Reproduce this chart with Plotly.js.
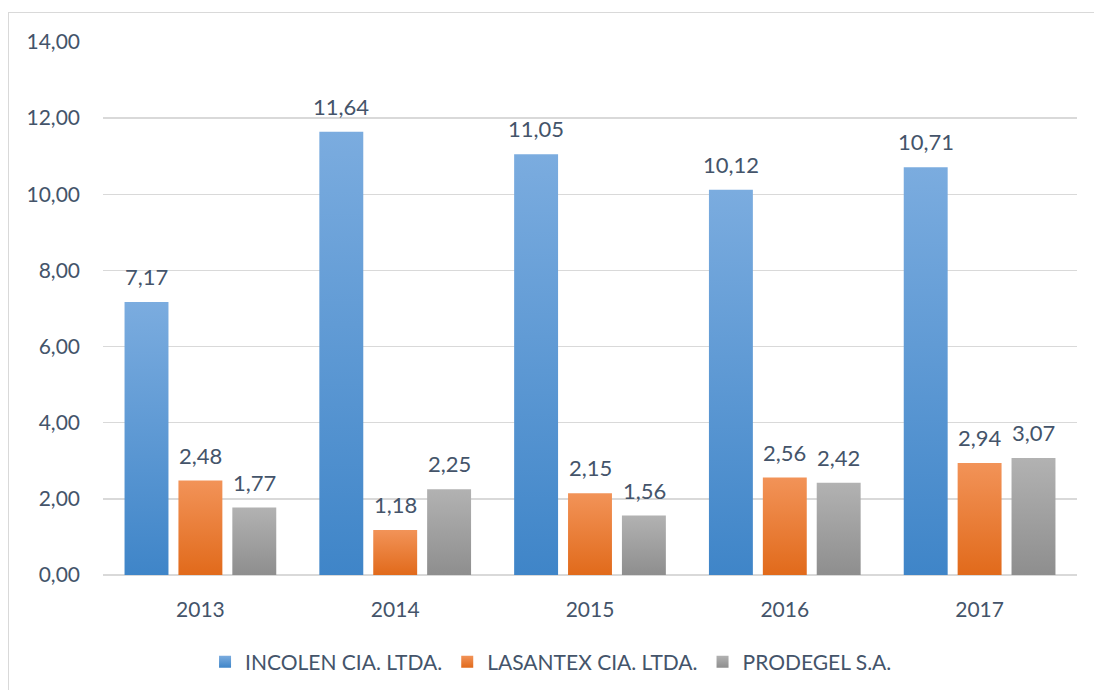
<!DOCTYPE html>
<html>
<head>
<meta charset="utf-8">
<script src="https://cdn.plot.ly/plotly-3.0.1.min.js"></script>
<style>
html,body{margin:0;padding:0;background:#fff;}
#wrap{position:relative;width:1094px;height:690px;}
#chart{position:absolute;left:0;top:0;width:1094px;height:690px;}
#border{position:absolute;left:8px;top:12px;width:1090px;height:680px;border:1px solid #d9d9d9;pointer-events:none;box-sizing:border-box;}
</style>
</head>
<body>
<div id="wrap"><div id="chart"></div><div id="border"></div></div>
<script>
const years = ['2013', '2014', '2015', '2016', '2017'];
const incolen = [7.17, 11.64, 11.05, 10.12, 10.71];
const lasantex = [2.48, 1.18, 2.15, 2.56, 2.94];
const prodegel = [1.77, 2.25, 1.56, 2.42, 3.07];
const seriesNames = ['INCOLEN CIA. LTDA.', 'LASANTEX CIA. LTDA.', 'PRODEGEL S.A.'];
const yTicks = [0, 2, 4, 6, 8, 10, 12, 14];

const colors = ['#5B9BD5', '#ED7D31', '#A5A5A5'];
const grads = [['#7BACDF', '#3F85C8'], ['#F29358', '#E16A1B'], ['#B2B2B2', '#8E8E8E']];
const txtColor = '#44546A';
const fontFam = 'Lato, "Open Sans", sans-serif';

const values = [incolen, lasantex, prodegel];
const traces = values.map((v, i) => ({
  type: 'bar',
  name: seriesNames[i],
  x: years,
  y: v,
  marker: {color: colors[i]},
  hoverinfo: 'skip'
}));

const fmt = d => d.toFixed(2).replace('.', ',');
const groupShift = [-54, 0, 54];
const annotations = [];
values.forEach((v, i) => {
  v.forEach((d, j) => {
    annotations.push({
      x: j, y: d, xref: 'x', yref: 'y',
      text: fmt(d), showarrow: false,
      xanchor: 'center', yanchor: 'bottom',
      xshift: groupShift[i], yshift: 10,
      font: {family: fontFam, size: 22, color: txtColor}
    });
  });
});

const layout = {
  width: 1094, height: 690,
  margin: {l: 103, r: 17, t: 42, b: 115, autoexpand: false},
  paper_bgcolor: 'rgba(0,0,0,0)',
  plot_bgcolor: 'rgba(0,0,0,0)',
  separators: ', ',
  barmode: 'group',
  bargap: 0.17,
  bargroupgap: 0.185,
  font: {family: fontFam, size: 21, color: txtColor},
  annotations: annotations,
  xaxis: {
    type: 'category',
    range: [-0.5, years.length - 0.5],
    autorange: false,
    showgrid: false,
    showline: false,
    zeroline: false,
    ticks: '',
    ticklabelstandoff: 20,
    tickfont: {family: fontFam, size: 21, color: txtColor}
  },
  yaxis: {
    range: [0, 14],
    autorange: false,
    tickvals: yTicks,
    tickformat: '.2f',
    showgrid: true,
    gridcolor: '#D9D9D9',
    gridwidth: 1.3,
    zeroline: true,
    zerolinecolor: '#D9D9D9',
    zerolinewidth: 1.3,
    showline: false,
    ticks: '',
    ticklabelstandoff: 22,
    tickfont: {family: fontFam, size: 21, color: txtColor}
  },
  showlegend: true,
  legend: {
    orientation: 'h',
    x: 0.46, xanchor: 'center',
    y: -0.125, yanchor: 'top',
    font: {family: fontFam, size: 21, color: txtColor},
    itemwidth: 30,
    traceorder: 'normal'
  }
};

Plotly.newPlot('chart', traces, layout, {displayModeBar: false, staticPlot: true}).then(gd => {
  const svg = gd.querySelector('svg.main-svg');
  const ns = 'http://www.w3.org/2000/svg';
  let defs = svg.querySelector('defs');
  grads.forEach((g, i) => {
    const lg = document.createElementNS(ns, 'linearGradient');
    lg.setAttribute('id', 'barGrad' + i);
    lg.setAttribute('x1', '0'); lg.setAttribute('y1', '0');
    lg.setAttribute('x2', '0'); lg.setAttribute('y2', '1');
    const s1 = document.createElementNS(ns, 'stop');
    s1.setAttribute('offset', '0'); s1.setAttribute('stop-color', g[0]);
    const s2 = document.createElementNS(ns, 'stop');
    s2.setAttribute('offset', '1'); s2.setAttribute('stop-color', g[1]);
    lg.appendChild(s1); lg.appendChild(s2);
    defs.appendChild(lg);
  });
  gd.querySelectorAll('.barlayer .trace.bars').forEach((t, i) => {
    t.querySelectorAll('.point path').forEach(p => { p.style.fill = 'url(#barGrad' + i + ')'; });
  });
  gd.querySelectorAll('.legend .traces').forEach((t, i) => {
    t.querySelectorAll('.legendpoints path').forEach(p => { p.style.fill = 'url(#barGrad' + i + ')'; p.style.stroke = 'none'; });
  });
});
</script>
</body>
</html>
